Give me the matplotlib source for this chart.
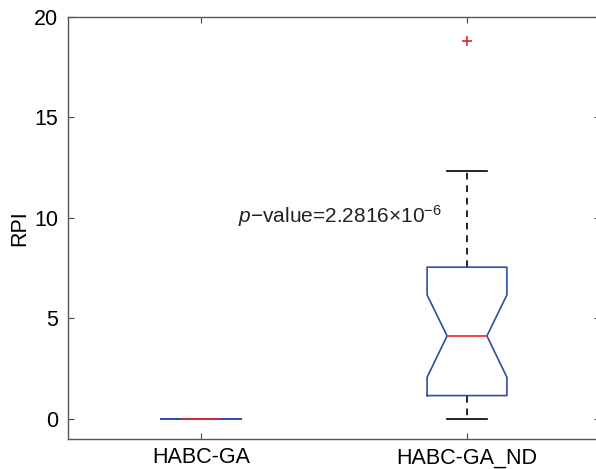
import matplotlib.pyplot as plt

plt.rcParams["font.family"] = ["Liberation Sans", "DejaVu Sans"]
plt.rcParams["mathtext.fontset"] = "custom"
plt.rcParams["mathtext.rm"] = "Liberation Sans"
plt.rcParams["mathtext.it"] = "Liberation Sans:italic"

# Box statistics per method (RPI)
labels = ["HABC-GA", "HABC-GA_ND"]
q1 = [0.0, 1.16]
median = [0.0, 4.13]
q3 = [0.0, 7.55]
whisker_lo = [0.0, 0.0]
whisker_hi = [0.0, 12.34]
notch_lo = [0.0, 2.07]
notch_hi = [0.0, 6.17]
outliers = [[], [18.82]]
p_text = r"$p$" + "\u2212value=2.2816\u00d710" + r"$^{\mathregular{-6}}$"

stats = []
for i in range(len(labels)):
    stats.append({
        "label": labels[i],
        "q1": q1[i], "med": median[i], "q3": q3[i],
        "whislo": whisker_lo[i], "whishi": whisker_hi[i],
        "cilo": notch_lo[i], "cihi": notch_hi[i],
        "fliers": outliers[i],
    })

blue = "#2d4ea6"
red = "#e0262b"

fig = plt.figure(figsize=(5.96, 4.69), dpi=100)
ax = fig.add_axes([68 / 596, 1 - 439 / 469, 532 / 596, 422 / 469])

ax.bxp(stats, positions=[1, 2], widths=0.3, shownotches=True,
       boxprops=dict(color=blue, linewidth=1.2, zorder=3),
       medianprops=dict(color=red, linewidth=1.2, zorder=4),
       whiskerprops=dict(color="black", linewidth=1.2, linestyle=(0, (4, 3.5)), zorder=2),
       capprops=dict(color="black", linewidth=1.2, zorder=2),
       flierprops=dict(marker="+", markeredgecolor=red, markersize=7,
                       markeredgewidth=1.2, linestyle="none"))

ax.set_xlim(0.5, 2.5)
ax.set_ylim(-1, 20)
ax.set_yticks([0, 5, 10, 15, 20])
ax.set_xticks([1, 2])
ax.set_xticklabels(labels)
ax.set_ylabel("RPI", fontsize=15.5, labelpad=3)
ax.tick_params(direction="in", length=4, top=True, right=True, labelsize=15.5,
               color="#444444", width=0.8)
ax.tick_params(axis="x", pad=6)
ax.tick_params(axis="y", pad=7)
for s in ax.spines.values():
    s.set_color("#555555")
    s.set_linewidth(1.0)

ax.text(1.14, 10.1, p_text, fontsize=15, va="center", ha="left", color="#222222")

fig.savefig("out.png", dpi=100)
